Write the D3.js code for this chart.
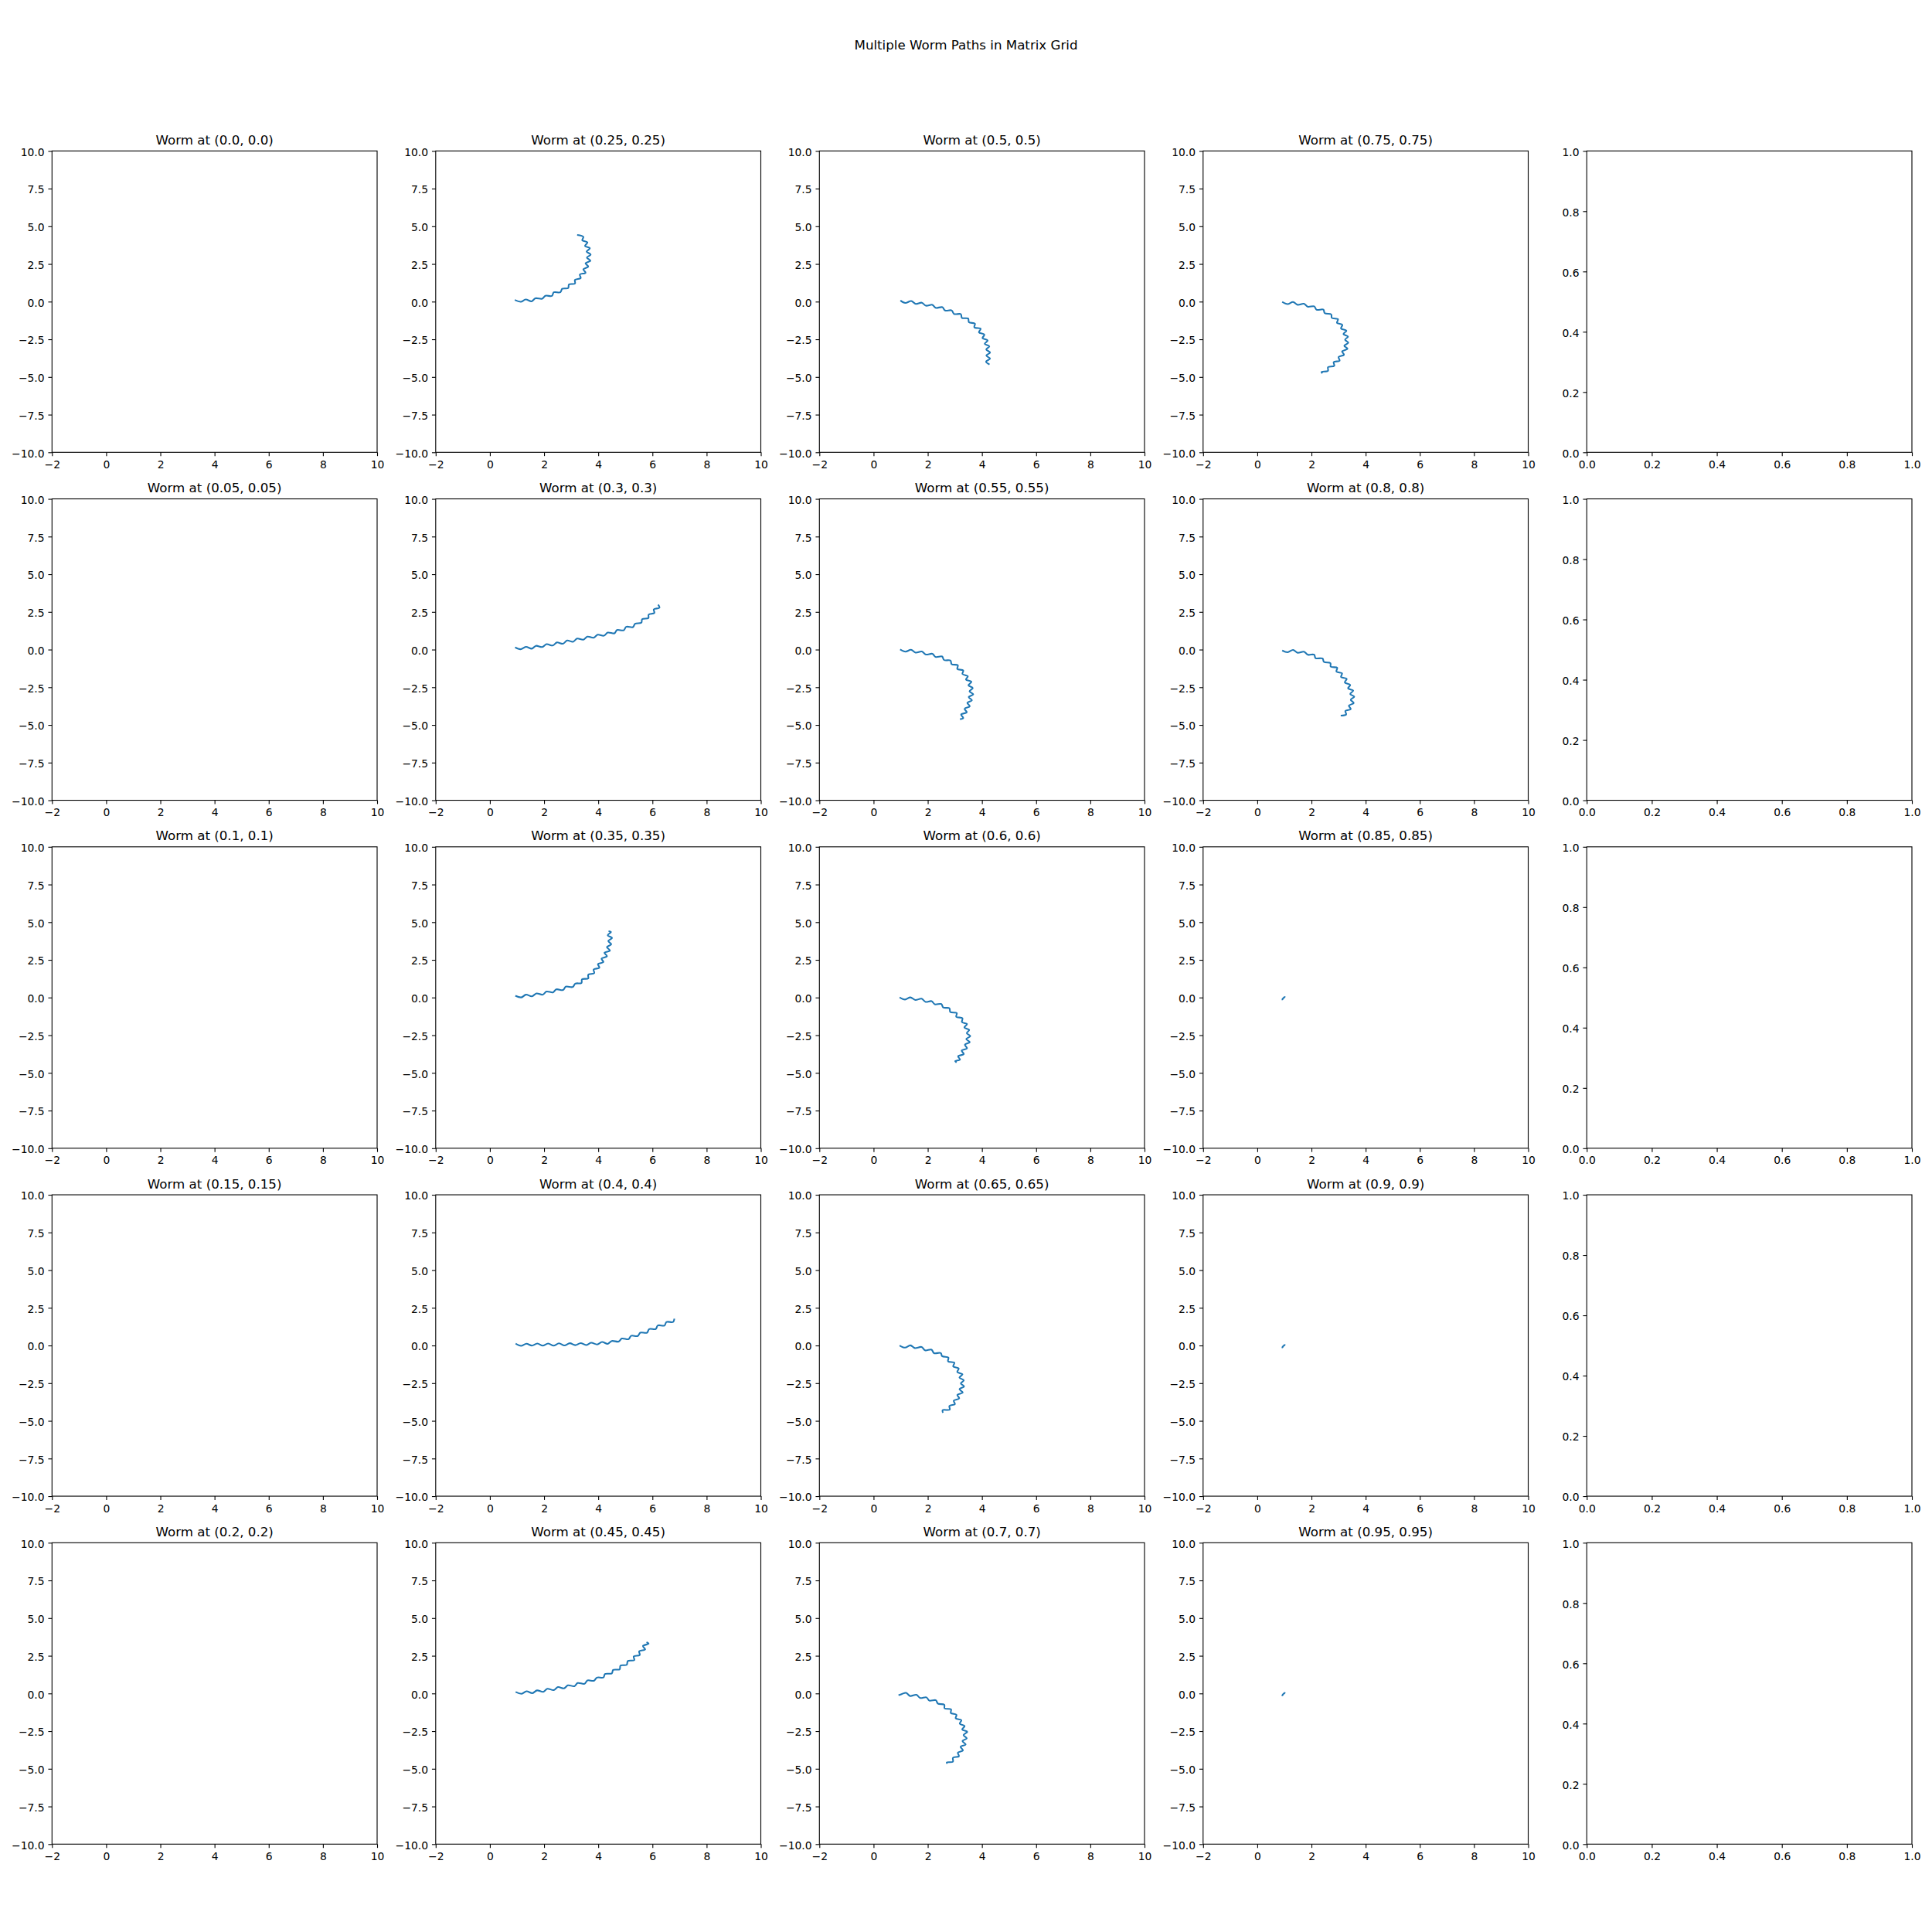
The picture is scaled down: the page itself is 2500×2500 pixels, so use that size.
<!DOCTYPE html>
<html>
<head>
<meta charset="utf-8">
<script src="https://cdn.jsdelivr.net/npm/d3@7"></script>
<style>
  body { margin: 0; background: #ffffff; }
  svg { display: block; }
</style>
</head>
<body>
<svg id="chart" width="2500" height="2500"></svg>
<script>
// ---------------- data ----------------
const figTitle = "Multiple Worm Paths in Matrix Grid";

const wormTitles = [
  "Worm at (0.0, 0.0)", "Worm at (0.05, 0.05)", "Worm at (0.1, 0.1)", "Worm at (0.15, 0.15)", "Worm at (0.2, 0.2)",
  "Worm at (0.25, 0.25)", "Worm at (0.3, 0.3)", "Worm at (0.35, 0.35)", "Worm at (0.4, 0.4)", "Worm at (0.45, 0.45)",
  "Worm at (0.5, 0.5)", "Worm at (0.55, 0.55)", "Worm at (0.6, 0.6)", "Worm at (0.65, 0.65)", "Worm at (0.7, 0.7)",
  "Worm at (0.75, 0.75)", "Worm at (0.8, 0.8)", "Worm at (0.85, 0.85)", "Worm at (0.9, 0.9)", "Worm at (0.95, 0.95)"
];

const xTicks = [-2, 0, 2, 4, 6, 8, 10];
const yTicks = [-10, -7.5, -5, -2.5, 0, 2.5, 5, 7.5, 10];
const unitTicks = [0, 0.2, 0.4, 0.6, 0.8, 1.0];
const xDomain = [-2, 10];
const yDomain = [-10, 10];
const unitDomain = [0, 1];

// worm paths (x, y); the first five panels are empty
const worm000 = [];
const worm005 = [];
const worm010 = [];
const worm015 = [];
const worm020 = [];
const worm025 = [[0.92,0.11],[1.14,-0.01],[1.32,0.14],[1.54,0.02],[1.68,0.22],[1.93,0.19],[2.05,0.39],[2.29,0.38],[2.36,0.62],[2.60,0.62],[2.67,0.85],[2.89,0.90],[2.92,1.14],[3.14,1.20],[3.14,1.44],[3.35,1.56],[3.32,1.80],[3.53,1.91],[3.45,2.15],[3.63,2.32],[3.53,2.54],[3.71,2.71],[3.58,2.92],[3.72,3.12],[3.57,3.32],[3.69,3.54],[3.51,3.69],[3.60,3.93],[3.41,4.07],[3.45,4.30],[3.22,4.43]];
const worm030 = [[0.93,0.15],[1.13,0.02],[1.33,0.18],[1.55,0.06],[1.70,0.25],[1.93,0.17],[2.09,0.36],[2.32,0.27],[2.47,0.47],[2.70,0.39],[2.85,0.60],[3.07,0.52],[3.22,0.73],[3.45,0.66],[3.60,0.86],[3.83,0.79],[3.98,0.99],[4.21,0.92],[4.35,1.13],[4.60,1.08],[4.69,1.30],[4.94,1.28],[5.03,1.51],[5.28,1.49],[5.36,1.71],[5.59,1.78],[5.62,2.01],[5.85,2.09],[5.86,2.32],[6.07,2.43],[6.05,2.67],[6.26,2.78],[6.21,2.98]];
const worm035 = [[0.94,0.12],[1.16,0.01],[1.33,0.19],[1.55,0.08],[1.72,0.27],[1.95,0.19],[2.09,0.40],[2.33,0.34],[2.45,0.54],[2.70,0.50],[2.80,0.72],[3.06,0.70],[3.15,0.92],[3.38,0.97],[3.40,1.21],[3.63,1.27],[3.63,1.51],[3.85,1.62],[3.83,1.86],[4.04,1.98],[3.99,2.22],[4.19,2.35],[4.12,2.58],[4.32,2.74],[4.23,2.97],[4.43,3.12],[4.32,3.35],[4.48,3.53],[4.37,3.75],[4.51,3.95],[4.35,4.13],[4.47,4.35],[4.38,4.40]];
const worm040 = [[0.95,0.12],[1.15,-0.02],[1.35,0.12],[1.55,-0.01],[1.75,0.13],[1.95,-0.01],[2.15,0.13],[2.35,-0.01],[2.55,0.14],[2.75,0.00],[2.95,0.15],[3.15,0.02],[3.35,0.16],[3.55,0.03],[3.74,0.18],[3.96,0.07],[4.14,0.23],[4.35,0.11],[4.50,0.30],[4.75,0.26],[4.87,0.46],[5.12,0.42],[5.21,0.64],[5.46,0.63],[5.55,0.85],[5.80,0.85],[5.88,1.09],[6.12,1.09],[6.20,1.33],[6.44,1.32],[6.52,1.56],[6.76,1.56],[6.81,1.78]];
const worm045 = [[0.95,0.10],[1.17,-0.02],[1.35,0.14],[1.57,0.02],[1.74,0.20],[1.97,0.11],[2.12,0.31],[2.36,0.22],[2.51,0.42],[2.74,0.34],[2.88,0.54],[3.12,0.48],[3.24,0.69],[3.49,0.64],[3.60,0.86],[3.84,0.84],[3.95,1.05],[4.19,1.06],[4.25,1.29],[4.50,1.33],[4.55,1.56],[4.79,1.60],[4.82,1.85],[5.05,1.90],[5.09,2.15],[5.33,2.21],[5.31,2.46],[5.53,2.55],[5.51,2.80],[5.73,2.92],[5.65,3.15],[5.86,3.30],[5.78,3.40]];
const worm050 = [[0.99,0.07],[1.17,-0.09],[1.39,0.04],[1.55,-0.15],[1.78,-0.07],[1.93,-0.27],[2.17,-0.21],[2.29,-0.41],[2.54,-0.37],[2.64,-0.59],[2.88,-0.58],[2.97,-0.82],[3.22,-0.83],[3.26,-1.08],[3.49,-1.12],[3.52,-1.37],[3.74,-1.46],[3.72,-1.71],[3.95,-1.80],[3.89,-2.04],[4.09,-2.19],[4.02,-2.42],[4.21,-2.58],[4.10,-2.80],[4.27,-2.97],[4.16,-3.18],[4.30,-3.38],[4.16,-3.58],[4.30,-3.78],[4.15,-3.98],[4.28,-4.17]];
const worm055 = [[0.98,0.01],[1.18,-0.14],[1.38,-0.01],[1.55,-0.20],[1.78,-0.13],[1.93,-0.33],[2.17,-0.28],[2.29,-0.49],[2.53,-0.46],[2.60,-0.69],[2.84,-0.73],[2.88,-0.97],[3.11,-1.04],[3.09,-1.29],[3.31,-1.38],[3.28,-1.62],[3.48,-1.77],[3.41,-1.99],[3.61,-2.14],[3.50,-2.37],[3.66,-2.55],[3.54,-2.77],[3.68,-2.97],[3.51,-3.15],[3.63,-3.36],[3.46,-3.54],[3.55,-3.77],[3.36,-3.93],[3.44,-4.16],[3.23,-4.31],[3.31,-4.54],[3.19,-4.62]];
const worm060 = [[0.96,0.01],[1.16,-0.13],[1.36,0.01],[1.54,-0.16],[1.77,-0.08],[1.92,-0.29],[2.14,-0.24],[2.26,-0.45],[2.50,-0.43],[2.57,-0.66],[2.80,-0.71],[2.83,-0.96],[3.07,-1.03],[3.05,-1.28],[3.28,-1.37],[3.26,-1.63],[3.45,-1.76],[3.35,-1.99],[3.53,-2.15],[3.44,-2.36],[3.57,-2.56],[3.42,-2.76],[3.55,-2.96],[3.37,-3.13],[3.45,-3.37],[3.25,-3.52],[3.33,-3.75],[3.12,-3.90],[3.19,-4.12],[3.01,-4.22],[3.06,-4.31]];
const worm065 = [[0.96,0.00],[1.16,-0.14],[1.36,0.01],[1.52,-0.17],[1.77,-0.10],[1.90,-0.32],[2.14,-0.28],[2.23,-0.51],[2.48,-0.50],[2.53,-0.71],[2.76,-0.80],[2.75,-1.05],[2.98,-1.14],[2.94,-1.39],[3.14,-1.52],[3.09,-1.76],[3.28,-1.91],[3.17,-2.13],[3.33,-2.31],[3.22,-2.52],[3.34,-2.72],[3.17,-2.90],[3.29,-3.12],[3.09,-3.28],[3.16,-3.51],[2.96,-3.66],[3.00,-3.89],[2.80,-4.01],[2.81,-4.26],[2.55,-4.29],[2.56,-4.47]];
const worm070 = [[0.92,-0.12],[1.05,-0.03],[1.20,0.04],[1.35,-0.17],[1.58,-0.09],[1.72,-0.30],[1.95,-0.26],[2.06,-0.48],[2.30,-0.45],[2.37,-0.67],[2.61,-0.75],[2.62,-0.99],[2.86,-1.06],[2.85,-1.30],[3.06,-1.42],[3.03,-1.65],[3.24,-1.77],[3.18,-2.01],[3.36,-2.16],[3.27,-2.39],[3.46,-2.55],[3.32,-2.76],[3.44,-2.98],[3.28,-3.16],[3.40,-3.39],[3.21,-3.54],[3.30,-3.78],[3.11,-3.93],[3.15,-4.17],[2.93,-4.27],[2.93,-4.53],[2.70,-4.58],[2.72,-4.66]];
const worm075 = [[0.92,-0.02],[1.12,-0.16],[1.32,-0.02],[1.49,-0.21],[1.72,-0.14],[1.87,-0.34],[2.10,-0.31],[2.19,-0.54],[2.44,-0.53],[2.49,-0.77],[2.73,-0.85],[2.75,-1.08],[2.98,-1.17],[2.94,-1.41],[3.14,-1.54],[3.09,-1.78],[3.29,-1.93],[3.18,-2.15],[3.35,-2.32],[3.24,-2.53],[3.36,-2.73],[3.21,-2.93],[3.33,-3.13],[3.13,-3.30],[3.20,-3.53],[3.00,-3.68],[3.04,-3.92],[2.82,-4.01],[2.84,-4.26],[2.61,-4.35],[2.61,-4.59],[2.37,-4.67],[2.40,-4.76]];
const worm080 = [[0.92,-0.06],[1.12,-0.18],[1.32,-0.02],[1.49,-0.21],[1.72,-0.14],[1.87,-0.34],[2.10,-0.34],[2.15,-0.57],[2.41,-0.59],[2.46,-0.82],[2.70,-0.90],[2.71,-1.13],[2.95,-1.21],[2.92,-1.46],[3.13,-1.58],[3.09,-1.82],[3.30,-1.94],[3.23,-2.18],[3.43,-2.34],[3.35,-2.57],[3.54,-2.72],[3.43,-2.95],[3.58,-3.13],[3.45,-3.33],[3.56,-3.55],[3.38,-3.72],[3.45,-3.95],[3.25,-4.07],[3.28,-4.31],[3.08,-4.38]];
const worm085 = [[0.90,-0.14],[0.93,-0.12],[0.95,-0.06],[0.98,-0.01],[1.01,0.04],[1.02,0.08]];
const worm090 = [[0.90,-0.14],[0.93,-0.12],[0.95,-0.06],[0.98,-0.01],[1.01,0.04],[1.02,0.08]];
const worm095 = [[0.90,-0.14],[0.93,-0.12],[0.95,-0.06],[0.98,-0.01],[1.01,0.04],[1.02,0.08]];

const wormPaths = [
  worm000, worm005, worm010, worm015, worm020,
  worm025, worm030, worm035, worm040, worm045,
  worm050, worm055, worm060, worm065, worm070,
  worm075, worm080, worm085, worm090, worm095
];

// ---------------- layout ----------------
const W = 2500, H = 2500;
const nRows = 5, nCols = 5;
const left0 = 67.3, colStep = 496.5, axW = 420.7;
const top0 = 195.3, rowStep = 450.25, axH = 390;
const FONT = "'DejaVu Sans', 'Liberation Sans', sans-serif";
const tickFs = 13.89, titleFs = 16.67;
const tickLen = 4.86, tickPad = 4.86;
const spineW = 1.11;
const lineColor = "#1f77b4";

const svg = d3.select("#chart");
svg.append("rect").attr("width", W).attr("height", H).attr("fill", "#ffffff");

svg.append("text")
  .attr("x", W / 2).attr("y", 63.5)
  .attr("text-anchor", "middle")
  .style("font-family", FONT).style("font-size", titleFs + "px")
  .attr("fill", "#000").text(figTitle);

const minus = s => s.replace(/^-/, "\u2212");
const fmtInt = d => minus(String(d));
const fmt1 = d => minus(d.toFixed(1));

function drawAxes(g, x, y, xt, yt, fx, fy) {
  const ax = g.append("g").attr("transform", `translate(0,${axH})`)
    .call(d3.axisBottom(x).tickValues(xt).tickSize(tickLen).tickPadding(tickPad).tickSizeOuter(0).tickFormat(fx));
  const ay = g.append("g")
    .call(d3.axisLeft(y).tickValues(yt).tickSize(tickLen).tickPadding(tickPad).tickSizeOuter(0).tickFormat(fy));
  [ax, ay].forEach(a => {
    a.attr("font-family", null).attr("font-size", null);
    a.select(".domain").remove();
    a.selectAll(".tick line").attr("stroke", "#000").attr("stroke-width", spineW);
    a.selectAll(".tick text").attr("fill", "#000")
      .style("font-family", FONT).style("font-size", tickFs + "px");
  });
  ax.selectAll(".tick text").attr("y", 20.6).attr("dy", null);
  ay.selectAll(".tick text").attr("x", -(tickLen + tickPad)).attr("dy", "0.42em");
}

for (let c = 0; c < nCols; c++) {
  for (let r = 0; r < nRows; r++) {
    const gx = left0 + c * colStep;
    const gy = top0 + r * rowStep;
    const g = svg.append("g").attr("transform", `translate(${gx},${gy})`);

    if (c < 4) {
      const idx = c * nRows + r;
      const x = d3.scaleLinear().domain(xDomain).range([0, axW]);
      const y = d3.scaleLinear().domain(yDomain).range([axH, 0]);

      drawAxes(g, x, y, xTicks, yTicks, fmtInt, fmt1);

      const pts = wormPaths[idx];
      if (pts.length > 1) {
        const line = d3.line()
          .x(d => x(d[0])).y(d => y(d[1]))
          .curve(d3.curveCatmullRom.alpha(0.5));
        g.append("path").datum(pts)
          .attr("d", line)
          .attr("fill", "none")
          .attr("stroke", lineColor)
          .attr("stroke-width", 2.08)
          .attr("stroke-linejoin", "round")
          .attr("stroke-linecap", "butt");
      }

      g.append("text")
        .attr("x", axW / 2).attr("y", -8.33)
        .attr("text-anchor", "middle")
        .style("font-family", FONT).style("font-size", titleFs + "px")
        .attr("fill", "#000").text(wormTitles[idx]);
    } else {
      const x = d3.scaleLinear().domain(unitDomain).range([0, axW]);
      const y = d3.scaleLinear().domain(unitDomain).range([axH, 0]);
      drawAxes(g, x, y, unitTicks, unitTicks, fmt1, fmt1);
    }

    g.append("rect")
      .attr("x", 0).attr("y", 0).attr("width", axW).attr("height", axH)
      .attr("fill", "none").attr("stroke", "#000").attr("stroke-width", spineW);
  }
}
</script>
</body>
</html>
